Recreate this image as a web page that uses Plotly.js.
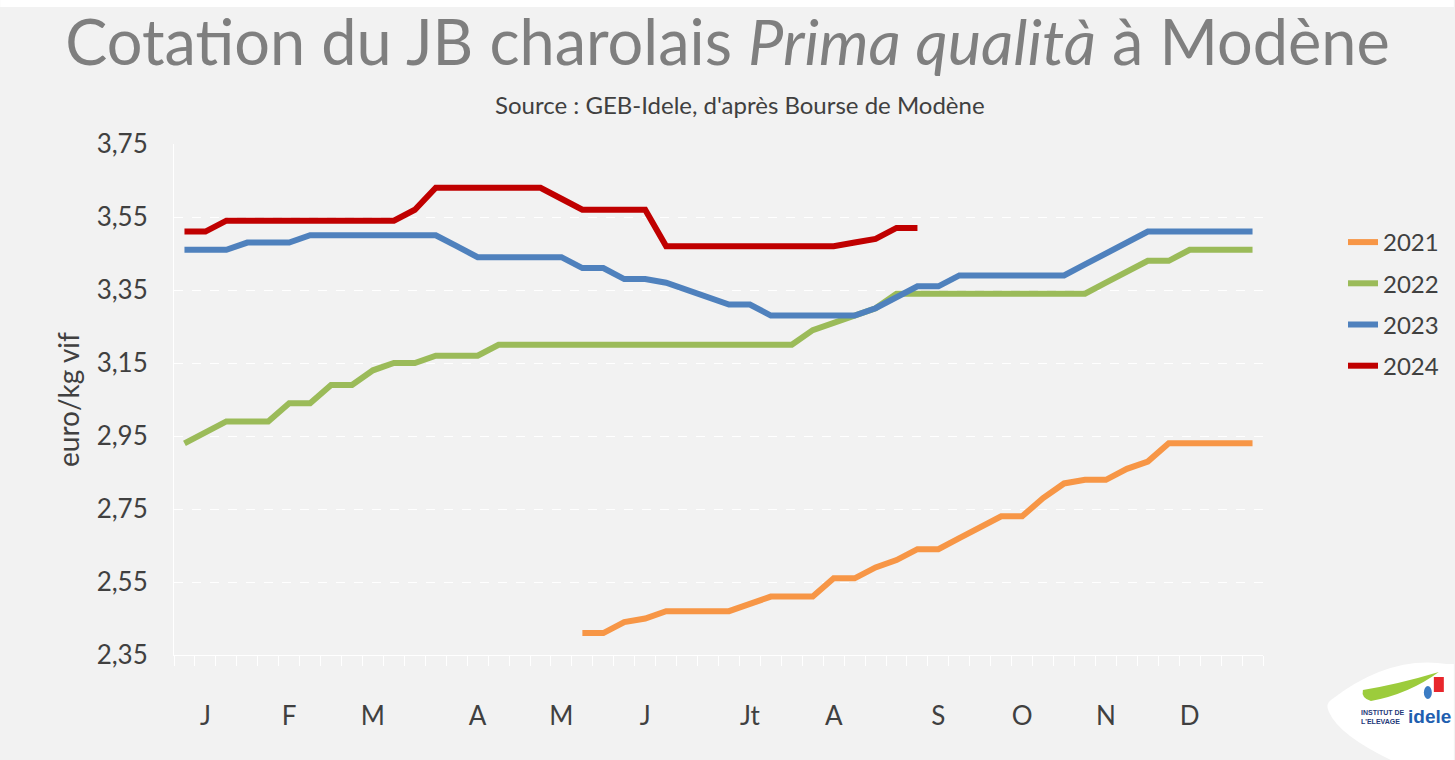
<!DOCTYPE html>
<html>
<head>
<meta charset="utf-8">
<script src="https://cdn.plot.ly/plotly-3.0.1.min.js"></script>
<style>
html,body{margin:0;padding:0;background:#f2f2f2;}
#chart{width:1455px;height:760px;}
</style>
</head>
<body>
<div id="chart"></div>
<script>
// Weeks 1..52
const weeks = Array.from({length: 52}, (_, i) => i + 1);

const monthTickWeeks = [2, 6, 10, 15, 19, 23, 28, 32, 37, 41, 45, 49];
const monthTickLabels = ['J', 'F', 'M', 'A', 'M', 'J', 'Jt', 'A', 'S', 'O', 'N', 'D'];

const yTickVals = [2.35, 2.55, 2.75, 2.95, 3.15, 3.35, 3.55, 3.75];
const yTickLabels = ['2,35', '2,55', '2,75', '2,95', '3,15', '3,35', '3,55', '3,75'];

const N = null;
const s2021 = [N,N,N,N,N,N,N,N,N,N,N,N,N,N,N,N,N,N,N,
  2.41,2.41,2.44,2.45,2.47,2.47,2.47,2.47,2.49,2.51,2.51,2.51,2.56,2.56,2.59,2.61,2.64,2.64,
  2.67,2.70,2.73,2.73,2.78,2.82,2.83,2.83,2.86,2.88,2.93,2.93,2.93,2.93,2.93];
const s2022 = [2.93,2.96,2.99,2.99,2.99,3.04,3.04,3.09,3.09,3.13,3.15,3.15,3.17,3.17,3.17,3.20,3.20,3.20,3.20,3.20,
  3.20,3.20,3.20,3.20,3.20,3.20,3.20,3.20,3.20,3.20,3.24,3.26,3.28,3.30,3.34,3.34,3.34,3.34,3.34,3.34,
  3.34,3.34,3.34,3.34,3.37,3.40,3.43,3.43,3.46,3.46,3.46,3.46];
const s2023 = [3.46,3.46,3.46,3.48,3.48,3.48,3.50,3.50,3.50,3.50,3.50,3.50,3.50,3.47,3.44,3.44,3.44,3.44,3.44,3.41,
  3.41,3.38,3.38,3.37,3.35,3.33,3.31,3.31,3.28,3.28,3.28,3.28,3.28,3.30,3.33,3.36,3.36,3.39,3.39,3.39,
  3.39,3.39,3.39,3.42,3.45,3.48,3.51,3.51,3.51,3.51,3.51,3.51];
const s2024 = [3.51,3.51,3.54,3.54,3.54,3.54,3.54,3.54,3.54,3.54,3.54,3.57,3.63,3.63,3.63,3.63,3.63,3.63,3.60,3.57,
  3.57,3.57,3.57,3.47,3.47,3.47,3.47,3.47,3.47,3.47,3.47,3.47,3.48,3.49,3.52,3.52];

const seriesNames = ['2021', '2022', '2023', '2024'];
const seriesData = [s2021, s2022, s2023, s2024];
const seriesColors = ['#F79646', '#9BBB59', '#4F81BD', '#C00000'];

const FONT = 'Lato, "DejaVu Sans", sans-serif';

const traces = seriesData.map((d, i) => ({
  type: 'scatter',
  mode: 'lines',
  name: seriesNames[i],
  legendgroup: seriesNames[i],
  x: weeks.slice(0, d.length),
  y: d,
  connectgaps: false,
  line: {color: seriesColors[i], width: 6, shape: 'linear'},
  hoverinfo: 'x+y+name'
}));

// Pixel helpers for decorative elements only
const L = 174, R = 1264, T = 144, B = 655;
const px = x => (x - L) / (R - L);
const py = y => (B - y) / (B - T);

const logoPath = 'M ' + px(1332) + ',' + py(700) +
  ' Q ' + px(1390) + ',' + py(655) + ' ' + px(1448) + ',' + py(664) +
  ' L ' + px(1455) + ',' + py(664) +
  ' L ' + px(1455) + ',' + py(760) +
  ' L ' + px(1392) + ',' + py(760) +
  ' Q ' + px(1340) + ',' + py(735) + ' ' + px(1330) + ',' + py(712) +
  ' Q ' + px(1326) + ',' + py(704) + ' ' + px(1332) + ',' + py(700) + ' Z';

const swooshPath = 'M ' + px(1364) + ',' + py(690) +
  ' Q ' + px(1400) + ',' + py(684) + ' ' + px(1440) + ',' + py(672) +
  ' Q ' + px(1410) + ',' + py(694) + ' ' + px(1372) + ',' + py(701) +
  ' Q ' + px(1362) + ',' + py(698) + ' ' + px(1364) + ',' + py(690) + ' Z';

const layout = {
  width: 1455,
  height: 760,
  paper_bgcolor: '#f2f2f2',
  plot_bgcolor: '#f2f2f2',
  margin: {l: L, r: 1455 - R, t: T, b: 760 - B, pad: 0},
  font: {family: FONT, color: '#404040'},
  title: {
    text: 'Cotation du JB charolais <i>Prima qualità</i> à Modène',
    font: {family: FONT, size: 63, color: '#7f7f7f'},
    x: 0.5, xanchor: 'center', xref: 'container',
    y: 1 - 43 / 760, yanchor: 'middle', yref: 'container'
  },
  showlegend: true,
  legend: {
    x: px(1343), xanchor: 'left',
    y: py(220), yanchor: 'top',
    bgcolor: 'rgba(0,0,0,0)',
    font: {family: FONT, size: 24, color: '#404040'},
    tracegroupgap: 7,
    itemwidth: 30
  },
  xaxis: {
    range: [0.5, 52.5],
    tickmode: 'array',
    tickvals: monthTickWeeks,
    ticktext: monthTickLabels,
    ticks: '',
    ticklabelstandoff: 38,
    tickfont: {family: FONT, size: 26, color: '#404040'},
    showgrid: false,
    zeroline: false,
    showline: true,
    linecolor: '#ffffff',
    linewidth: 1,
    minor: {
      tickmode: 'linear', tick0: 0.5, dtick: 1,
      ticks: 'outside', ticklen: 10, tickcolor: '#ffffff', tickwidth: 1,
      showgrid: false
    },
    fixedrange: true
  },
  yaxis: {
    range: [2.35, 3.75],
    tickmode: 'array',
    tickvals: yTickVals,
    ticktext: yTickLabels,
    ticks: '',
    ticklabelstandoff: 20,
    tickfont: {family: FONT, size: 26, color: '#404040'},
    showgrid: true,
    gridcolor: '#ffffff',
    griddash: 'dash',
    gridwidth: 1,
    zeroline: false,
    showline: true,
    linecolor: '#ffffff',
    linewidth: 1,
    title: {text: 'euro/kg vif', font: {family: FONT, size: 28, color: '#404040'}, standoff: 8},
    fixedrange: true
  },
  annotations: [
    {
      text: "Source : GEB-Idele, d'après Bourse de Modène",
      xref: 'paper', yref: 'paper', x: px(741), y: py(104),
      xanchor: 'center', yanchor: 'middle', showarrow: false,
      font: {family: FONT, size: 24, color: '#404040'}
    },
    {
      text: '<b>INSTITUT DE<br>L\'ELEVAGE</b>',
      xref: 'paper', yref: 'paper', x: px(1360), y: py(717),
      xanchor: 'left', yanchor: 'middle', showarrow: false, align: 'left',
      font: {family: '"Liberation Sans", Arial, sans-serif', size: 7, color: '#1f3a7a'}
    },
    {
      text: '<b>idele</b>',
      xref: 'paper', yref: 'paper', x: px(1407), y: py(716),
      xanchor: 'left', yanchor: 'middle', showarrow: false,
      font: {family: '"Liberation Sans", Arial, sans-serif', size: 19, color: '#1f5fb0'}
    }
  ],
  shapes: [
    {type: 'rect', xref: 'paper', yref: 'paper', x0: px(0), x1: px(1455), y0: py(0), y1: py(7),
     fillcolor: '#ffffff', line: {width: 0}, layer: 'below'},
    {type: 'path', xref: 'paper', yref: 'paper', path: logoPath,
     fillcolor: '#ffffff', line: {width: 0}, layer: 'above'},
    {type: 'path', xref: 'paper', yref: 'paper', path: swooshPath,
     fillcolor: '#9ccc3c', line: {width: 0}, layer: 'above'},
    {type: 'rect', xref: 'paper', yref: 'paper', x0: px(1435), x1: px(1445), y0: py(692), y1: py(677),
     fillcolor: '#e8262c', line: {width: 0}, layer: 'above'},
    {type: 'circle', xref: 'paper', yref: 'paper', x0: px(1425), x1: px(1433), y0: py(699), y1: py(686),
     fillcolor: '#3b7cc4', line: {width: 0}, layer: 'above'}
  ]
};

Plotly.newPlot('chart', traces, layout, {displayModeBar: false, staticPlot: false});
</script>
</body>
</html>
